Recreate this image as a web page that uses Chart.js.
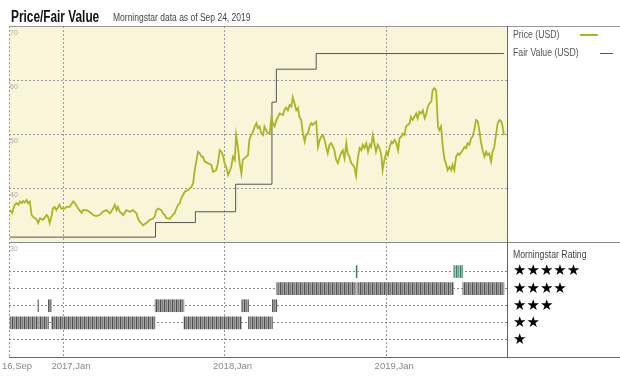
<!DOCTYPE html>
<html>
<head>
<meta charset="utf-8">
<script src="https://cdn.jsdelivr.net/npm/chart.js@4.4.1/dist/chart.umd.min.js"></script>
<style>
  html, body { margin: 0; padding: 0; background: #fff; }
  #wrap { position: relative; width: 620px; height: 378px; overflow: hidden;
          font-family: 'Liberation Sans', 'DejaVu Sans', sans-serif; }
  #wrap canvas { position: absolute; left: 0; top: 0; }
  #title { position: absolute; left: 11px; top: 9px; font-size: 16px; line-height: 16px; font-weight: bold; color: #111;
           white-space: nowrap; transform: scaleX(0.74); transform-origin: left top; }
  #subtitle { position: absolute; left: 113px; top: 13px; font-size: 10px; line-height: 10px; color: #444;
              white-space: nowrap; transform: scaleX(0.85); transform-origin: left top; }
  .txt { position: absolute; left: 513px; font-size: 10px; line-height: 10px; color: #555;
         white-space: nowrap; transform: scaleX(0.87); transform-origin: left top; }
  .swatch { position: absolute; }
</style>
</head>
<body>
<div id="wrap">
  <canvas id="priceChart" width="620" height="378"></canvas>
  <canvas id="ratingChart" width="620" height="378"></canvas>
  <div id="title">Price/Fair Value</div>
  <div id="subtitle">Morningstar data as of Sep 24, 2019</div>
  <div class="txt" style="top:30px">Price (USD)</div>
  <div class="swatch" style="left:580px; top:34px; width:18px; height:2px; background:#aab520"></div>
  <div class="txt" style="top:48px">Fair Value (USD)</div>
  <div class="swatch" style="left:600px; top:53px; width:13px; height:1px; background:#555"></div>
  <div class="txt" style="top:250px; color:#444">Morningstar Rating</div>
</div>
<script>
// --- Data ---
const tickDates = ['2016-09-01', '2017-01-01', '2018-01-01', '2019-01-01'];
const tickLabels = ['16,Sep', '2017,Jan', '2018,Jan', '2019,Jan'];
const priceTicks = [30, 40, 50, 60, 70];

const priceDates = [
  '2016-09-03','2016-09-08','2016-09-14','2016-09-18','2016-09-22','2016-09-26','2016-09-30','2016-10-03','2016-10-07','2016-10-11',
  '2016-10-14','2016-10-18','2016-10-22','2016-10-25','2016-11-02','2016-11-06','2016-11-10','2016-11-17','2016-11-25','2016-11-28',
  '2016-12-02','2016-12-06','2016-12-09','2016-12-13','2016-12-17','2016-12-21','2016-12-24','2016-12-28','2017-01-02','2017-01-05',
  '2017-01-09','2017-01-16','2017-01-24','2017-01-28','2017-02-04','2017-02-12','2017-02-15','2017-02-23','2017-03-02','2017-03-10',
  '2017-03-17','2017-03-25','2017-04-01','2017-04-09','2017-04-17','2017-04-24','2017-04-28','2017-05-02','2017-05-05','2017-05-09',
  '2017-05-17','2017-05-24','2017-06-01','2017-06-08','2017-06-16','2017-06-19','2017-06-23','2017-07-01','2017-07-08','2017-07-16',
  '2017-07-23','2017-07-27','2017-07-31','2017-08-04','2017-08-11','2017-08-15','2017-08-19','2017-08-23','2017-08-30','2017-09-06',
  '2017-09-10','2017-09-14','2017-09-18','2017-09-22','2017-09-25','2017-09-29','2017-10-03','2017-10-10','2017-10-18','2017-10-22',
  '2017-10-25','2017-10-29','2017-11-02','2017-11-06','2017-11-10','2017-11-13','2017-11-17','2017-11-24','2017-12-02','2017-12-06',
  '2017-12-13','2017-12-17','2017-12-21','2017-12-25','2017-12-29','2018-01-01','2018-01-05','2018-01-09','2018-01-12','2018-01-16',
  '2018-01-20','2018-01-24','2018-01-27','2018-01-31','2018-02-04','2018-02-08','2018-02-11','2018-02-15','2018-02-23','2018-02-26',
  '2018-03-02','2018-03-06','2018-03-10','2018-03-14','2018-03-17','2018-03-21','2018-03-25','2018-03-29','2018-04-01','2018-04-05',
  '2018-04-09','2018-04-13','2018-04-17','2018-04-20','2018-04-24','2018-04-28','2018-05-02','2018-05-05','2018-05-13','2018-05-16',
  '2018-05-20','2018-05-24','2018-05-28','2018-06-01','2018-06-04','2018-06-08','2018-06-12','2018-06-16','2018-06-19','2018-06-23',
  '2018-06-27','2018-07-01','2018-07-04','2018-07-08','2018-07-12','2018-07-16','2018-07-19','2018-07-23','2018-07-27','2018-07-31',
  '2018-08-03','2018-08-07','2018-08-11','2018-08-15','2018-08-19','2018-08-22','2018-08-26','2018-08-30','2018-09-03','2018-09-06',
  '2018-09-10','2018-09-14','2018-09-18','2018-09-21','2018-09-25','2018-09-29','2018-10-03','2018-10-06','2018-10-10','2018-10-14',
  '2018-10-18','2018-10-21','2018-10-25','2018-10-29','2018-11-02','2018-11-06','2018-11-09','2018-11-13','2018-11-17','2018-11-21',
  '2018-11-25','2018-11-28','2018-12-02','2018-12-06','2018-12-09','2018-12-13','2018-12-17','2018-12-21','2018-12-24','2018-12-28',
  '2019-01-02','2019-01-05','2019-01-09','2019-01-13','2019-01-16','2019-01-20','2019-01-24','2019-01-28','2019-01-31','2019-02-04',
  '2019-02-07','2019-02-11','2019-02-15','2019-02-23','2019-02-26','2019-03-02','2019-03-06','2019-03-10','2019-03-13','2019-03-17',
  '2019-03-21','2019-03-25','2019-03-29','2019-04-02','2019-04-05','2019-04-09','2019-04-13','2019-04-16','2019-04-20','2019-04-24',
  '2019-04-28','2019-05-01','2019-05-05','2019-05-09','2019-05-13','2019-05-16','2019-05-20','2019-05-24','2019-05-28','2019-05-31',
  '2019-06-04','2019-06-08','2019-06-12','2019-06-15','2019-06-23','2019-06-27','2019-07-01','2019-07-04','2019-07-08','2019-07-12',
  '2019-07-15','2019-07-19','2019-07-23','2019-07-27','2019-07-31','2019-08-03','2019-08-07','2019-08-11','2019-08-15','2019-08-18',
  '2019-08-22','2019-08-26','2019-08-30','2019-09-02','2019-09-06','2019-09-10','2019-09-14','2019-09-18','2019-09-21','2019-09-24'
];
const priceValues = [
  35.9, 35.4, 36.9, 37.2, 36.9, 37.5, 37.2, 37.6, 37.3, 37.8,
  37.2, 37.5, 35.0, 34.7, 34.2, 33.5, 34.4, 34.1, 35.0, 34.7,
  33.5, 34.7, 36.2, 36.5, 35.9, 36.5, 36.9, 36.2, 36.2, 36.2,
  36.5, 36.5, 37.5, 37.2, 36.2, 35.4, 35.9, 35.9, 35.6, 35.0,
  34.8, 35.0, 35.6, 35.9, 35.3, 36.2, 36.9, 35.9, 36.5, 35.6,
  35.0, 35.9, 35.6, 35.9, 35.3, 34.4, 33.8, 33.1, 33.5, 34.1,
  34.3, 34.7, 35.9, 36.2, 35.9, 35.3, 35.0, 34.4, 34.3, 35.0,
  35.3, 36.2, 36.9, 37.2, 38.1, 38.7, 39.3, 39.6, 40.2, 40.9,
  43.0, 44.9, 46.7, 46.4, 45.8, 45.8, 44.9, 44.6, 44.3, 43.0,
  43.3, 44.6, 47.0, 46.7, 45.8, 44.6, 43.9, 42.4, 43.0, 43.9,
  45.8, 45.2, 49.8, 47.6, 44.6, 42.7, 45.2, 45.5, 46.1, 48.9,
  49.8, 50.4, 51.4, 52.0, 51.1, 51.4, 50.1, 49.8, 51.4, 50.7,
  50.1, 50.1, 53.2, 52.0, 51.4, 52.6, 53.2, 53.8, 53.5, 54.4,
  54.9, 54.4, 55.4, 55.1, 56.8, 55.7, 54.4, 54.8, 53.2, 52.6,
  50.1, 48.6, 49.8, 50.1, 51.4, 52.0, 51.7, 52.0, 52.3, 47.6,
  48.6, 49.5, 49.8, 48.9, 47.4, 46.4, 48.0, 48.3, 47.6, 47.0,
  45.2, 44.6, 45.8, 46.4, 47.0, 45.5, 48.3, 46.4, 45.8, 44.6,
  44.3, 43.9, 42.2, 45.5, 47.4, 47.0, 48.0, 47.4, 48.3, 46.7,
  48.0, 47.6, 49.8, 48.0, 46.7, 48.0, 47.4, 46.1, 43.3, 45.2,
  46.7, 46.1, 47.6, 48.6, 48.3, 48.9, 48.3, 47.0, 49.2, 49.5,
  50.1, 49.8, 51.4, 52.0, 53.2, 52.6, 53.2, 53.8, 52.9, 54.1,
  53.8, 54.4, 52.9, 53.8, 55.0, 55.7, 56.0, 58.1, 58.5, 58.1,
  51.4, 50.7, 51.4, 47.6, 45.2, 44.6, 43.3, 43.9, 43.3, 44.3,
  43.3, 45.8, 46.4, 46.1, 47.0, 47.6, 47.4, 48.3, 48.0, 49.2,
  49.5, 50.7, 52.6, 52.3, 50.4, 48.6, 47.0, 45.8, 46.7, 46.1,
  46.4, 44.9, 47.0, 47.4, 49.8, 52.0, 52.6, 52.3, 51.4, 49.8
];

// fair value changes (value holds until the next date)
const fairDates = ['2016-09-03', '2017-07-29', '2017-10-27', '2018-01-26', '2018-04-18', '2018-04-28', '2018-07-27', '2019-09-24'];
const fairValues = [30.9, 33.6, 35.6, 40.7, 55.9, 62.0, 64.9, 64.9];

// star rating periods
const ratingStart = ['2016-09-03', '2016-11-05', '2016-11-07', '2016-11-29', '2016-12-06', '2017-07-28', '2017-10-01', '2018-02-08',
                     '2018-02-24', '2018-04-19', '2018-04-29', '2018-10-25', '2018-10-28', '2019-06-02', '2019-06-23'];
const ratingEnd = ['2016-11-05', '2016-11-07', '2016-11-29', '2016-12-06', '2017-07-28', '2017-10-01', '2018-02-08', '2018-02-24',
                   '2018-04-19', '2018-04-29', '2018-10-25', '2018-10-28', '2019-06-02', '2019-06-23', '2019-09-24'];
const ratingStars = [2, 3, 2, 3, 2, 3, 2, 3, 2, 3, 4, 5, 4, 5, 4];

// --- Styles ---
const PRICE_COLOR = '#aab520';
const FAIR_COLOR = '#555555';
const PLOT_BG = '#f9f5d9';
const X_MIN = Date.parse('2016-09-01');
const X_MAX = Date.parse('2019-10-01');
const t = s => Date.parse(s);

Chart.defaults.font.family = "'Liberation Sans', 'DejaVu Sans', sans-serif";

function setTicks(values) {
    return scale => { scale.ticks = values.map(v => ({ value: v })); };
}

// fills the plot area and draws the frame lines that run into the right panel
const framePlugin = {
    id: 'frame',
    beforeDraw(chart, args, opts) {
        const { ctx, chartArea: a } = chart;
        if (opts.background) {
            ctx.save();
            ctx.fillStyle = opts.background;
            ctx.fillRect(a.left, a.top, a.right - a.left, a.bottom - a.top);
            ctx.restore();
        }
    },
    afterDraw(chart, args, opts) {
        const { ctx, chartArea: a, width } = chart;
        ctx.save();
        ctx.lineWidth = 1;
        (opts.hLines || []).forEach(h => {
            const y = Math.round(h.at === 'top' ? a.top : a.bottom) + 0.5;
            ctx.strokeStyle = h.color;
            ctx.beginPath();
            ctx.moveTo(h.from === 'left' ? a.left : a.right, y);
            ctx.lineTo(width, y);
            ctx.stroke();
        });
        if (opts.rightLine) {
            const x = Math.round(a.right) + 0.5;
            ctx.strokeStyle = opts.rightLine;
            ctx.beginPath();
            ctx.moveTo(x, a.top);
            ctx.lineTo(x, a.bottom);
            ctx.stroke();
        }
        ctx.restore();
    }
};

// --- Price / fair value chart ---
new Chart(document.getElementById('priceChart'), {
    type: 'line',
    data: {
        datasets: [{
            label: 'Price (USD)',
            data: priceDates.map((d, i) => ({ x: t(d), y: priceValues[i] })),
            borderColor: PRICE_COLOR,
            borderWidth: 1.8,
            pointRadius: 0,
            tension: 0
        }, {
            label: 'Fair Value (USD)',
            data: fairDates.map((d, i) => ({ x: t(d), y: fairValues[i] })),
            borderColor: FAIR_COLOR,
            borderWidth: 1,
            pointRadius: 0,
            stepped: 'before'
        }]
    },
    options: {
        responsive: false,
        animation: false,
        layout: { padding: { left: 9, right: 113, top: 26, bottom: 0 } },
        plugins: {
            legend: { display: false },
            tooltip: { enabled: false },
            frame: {
                background: PLOT_BG,
                hLines: [{ at: 'top', from: 'left', color: '#999' }, { at: 'bottom', from: 'right', color: '#888' }],
                rightLine: '#666'
            }
        },
        scales: {
            x: {
                type: 'linear',
                min: X_MIN,
                max: X_MAX,
                afterBuildTicks: setTicks(tickDates.map(t)),
                afterFit: s => { s.height = 136; s.paddingLeft = 0; s.paddingRight = 0; },
                ticks: { display: false },
                grid: { color: '#999', drawTicks: false },
                border: { color: '#888', dash: [2, 2] }
            },
            y: {
                min: 30,
                max: 70,
                afterBuildTicks: setTicks(priceTicks),
                afterFit: s => { s.width = 0; },
                ticks: { mirror: true, padding: 1, labelOffset: 7, color: '#aaa', font: { size: 7 } },
                grid: { color: '#999', drawTicks: false },
                border: { display: false, dash: [2, 2] }
            }
        }
    },
    plugins: [framePlugin]
});

// --- Morningstar rating chart ---
const ratingCanvas = document.getElementById('ratingChart');
const ratingCtx = ratingCanvas.getContext('2d');

function stripes(colors) {
    const c = document.createElement('canvas');
    c.width = colors.length;
    c.height = 1;
    const g = c.getContext('2d');
    colors.forEach((col, i) => { g.fillStyle = col; g.fillRect(i, 0, 1, 1); });
    return ratingCtx.createPattern(c, 'repeat');
}
const grayStripes = stripes(['#4f4f4f', '#9a9a9a', '#7c7c7c', '#a8a8a8']);
const greenStripes = stripes(['#3f7d66', '#88b9a4', '#6fa48e', '#a0c9b8']);

new Chart(ratingCanvas, {
    type: 'bar',
    data: {
        datasets: [{
            label: 'Morningstar Rating',
            data: ratingStart.map((s, i) => ({ x: [t(s), t(ratingEnd[i])], y: ratingStars[i] })),
            backgroundColor: ratingStars.map(r => r === 5 ? greenStripes : grayStripes),
            borderWidth: 0,
            barThickness: 12
        }]
    },
    options: {
        responsive: false,
        animation: false,
        indexAxis: 'y',
        layout: { padding: { left: 9, right: 0, top: 242, bottom: 0 } },
        plugins: {
            legend: { display: false },
            tooltip: { enabled: false },
            frame: { hLines: [{ at: 'bottom', from: 'right', color: '#666' }] }
        },
        scales: {
            x: {
                type: 'linear',
                min: X_MIN,
                max: X_MAX,
                afterBuildTicks: setTicks(tickDates.map(t)),
                afterFit: s => { s.height = 21; s.paddingLeft = 0; s.paddingRight = 0; },
                ticks: {
                    callback: (v, i) => tickLabels[i],
                    color: '#888',
                    font: { size: 9.5 },
                    padding: 4,
                    labelOffset: 8,
                    maxRotation: 0,
                    autoSkip: false
                },
                grid: { color: '#999', drawTicks: false },
                border: { color: '#666', dash: [2, 2] }
            },
            y: {
                type: 'linear',
                position: 'right',
                min: 0,
                max: 6.73,
                offset: false,
                afterBuildTicks: setTicks([1, 2, 3, 4, 5]),
                afterFit: s => { s.width = 113; },
                ticks: {
                    callback: v => '\u2605'.repeat(v),
                    color: '#000',
                    font: { family: "'DejaVu Sans', sans-serif", size: 15 },
                    padding: 6
                },
                grid: { color: '#888', drawTicks: false, offset: false },
                border: { color: '#666', dash: [2, 2] }
            }
        }
    },
    plugins: [framePlugin]
});
</script>
</body>
</html>
